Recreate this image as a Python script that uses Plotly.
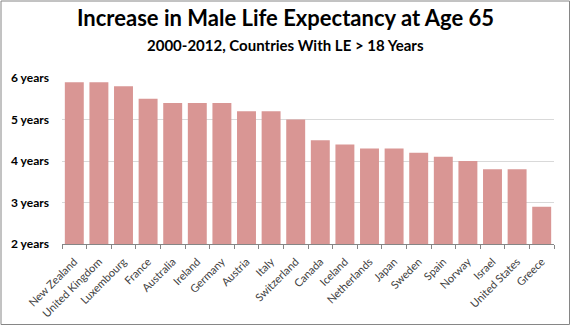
import plotly.graph_objects as go

countries = ["New Zealand", "United Kingdom", "Luxembourg", "France", "Australia",
             "Ireland", "Germany", "Austria", "Italy", "Switzerland", "Canada",
             "Iceland", "Netherlands", "Japan", "Sweden", "Spain", "Norway",
             "Israel", "United States", "Greece"]
increase = [5.9, 5.9, 5.8, 5.5, 5.4, 5.4, 5.4, 5.2, 5.2, 5.0, 4.5,
            4.4, 4.3, 4.3, 4.2, 4.1, 4.0, 3.8, 3.8, 2.9]
ytick_vals = [2, 3, 4, 5, 6]
ytick_text = ["2 years", "3 years", "4 years", "5 years", "6 years"]

W, H = 571, 326
L, R, T, B = 62, 17, 78, 82
pw, ph = W - L - R, H - T - B

fig = go.Figure(go.Bar(
    x=countries, y=increase,
    marker=dict(color="#D99694", line=dict(width=0)),
    width=0.77,
))

def px_x(x):
    return (x - L) / pw

def px_y(y):
    return (H - B - y) / ph

fig.update_layout(
    width=W, height=H,
    margin=dict(l=L, r=R, t=T, b=B, autoexpand=False),
    paper_bgcolor="white", plot_bgcolor="white",
    showlegend=False,
    font=dict(family="Lato", color="#404040"),
    xaxis=dict(
        type="category", tickangle=-45, automargin=False,
        tickfont=dict(family="Lato", size=11, color="#404040"),
        showline=True, linecolor="#868686", linewidth=1,
        ticks="outside", tickson="boundaries", ticklen=4, tickcolor="#868686",
        showgrid=False, ticklabelstandoff=6,
    ),
    yaxis=dict(
        range=[2, 6], tickvals=ytick_vals, ticktext=ytick_text, automargin=False,
        tickfont=dict(family="Lato", size=12, color="#000000", weight="bold"),
        showgrid=True, gridcolor="#D9D9D9", gridwidth=1,
        zeroline=False, showline=False, ticks="", ticklabelstandoff=12,
    ),
    annotations=[
        dict(text="Increase in Male Life Expectancy at Age 65", xref="paper", yref="paper",
             x=px_x(285.5), y=px_y(18), xanchor="center", yanchor="middle", showarrow=False,
             font=dict(family="Lato", size=22, color="#000000", weight="bold")),
        dict(text="2000-2012, Countries With LE > 18 Years", xref="paper", yref="paper",
             x=px_x(285.5), y=px_y(45), xanchor="center", yanchor="middle", showarrow=False,
             font=dict(family="Lato", size=15, color="#000000", weight="bold")),
    ],
    shapes=[dict(type="rect", xref="paper", yref="paper",
                 x0=px_x(1), x1=px_x(569.5), y0=px_y(324.5), y1=px_y(1),
                 line=dict(color="#868686", width=1), layer="below")],
)

fig.write_html("out.html")
